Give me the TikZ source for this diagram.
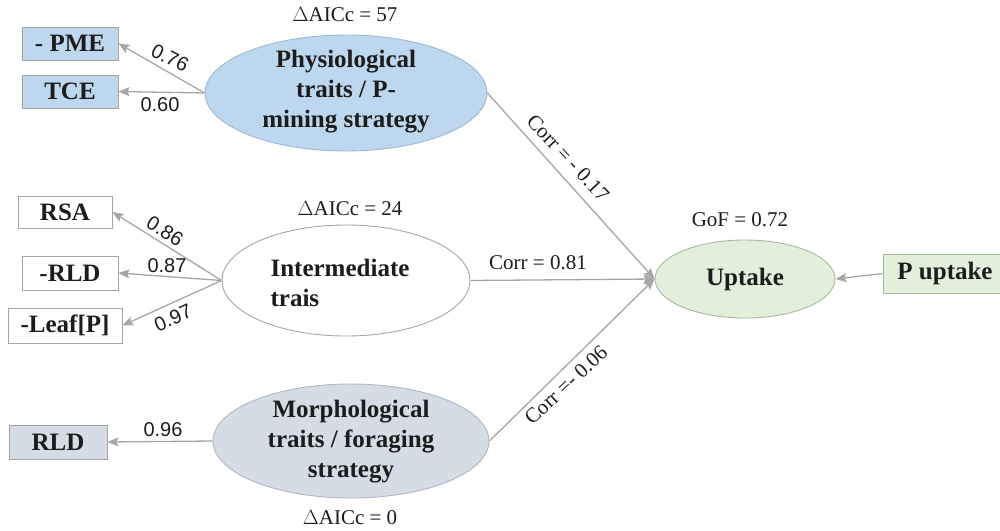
\documentclass[tikz,border=0pt]{standalone}
\usepackage{fontspec}
\setmainfont{Liberation Serif}
\newfontfamily\numfont{Liberation Sans}
\usetikzlibrary{arrows.meta,shapes.geometric}
\definecolor{lineg}{HTML}{A6A6A6}
\definecolor{bordg}{HTML}{A5A5A5}
\definecolor{txt}{HTML}{1C1C1C}
\definecolor{physfill}{HTML}{BDD7EE}
\definecolor{physbord}{HTML}{9EB9D4}
\definecolor{morphfill}{HTML}{D6DCE5}
\definecolor{morphbord}{HTML}{AEB6C2}
\definecolor{upfill}{HTML}{E2EFDA}
\definecolor{upbord}{HTML}{A9B9A0}
\begin{document}
\begin{tikzpicture}[x=1pt,y=-1pt,
  box/.style={rectangle, draw=bordg, line width=0.9pt, inner sep=0pt, text=txt,
    font=\bfseries\fontsize{25}{29}\selectfont},
  lat/.style={ellipse, line width=0.9pt, inner sep=0pt},
  ltext/.style={text=txt, inner sep=0pt, align=center, font=\bfseries\fontsize{25}{30}\selectfont},
  con/.style={draw=lineg, line width=1.3pt, -{Stealth[length=11pt,width=9pt,inset=2pt]}},
  lab/.style={text=txt, inner sep=0pt, font=\fontsize{21}{24}\selectfont},
  load/.style={text=txt, inner sep=0pt, font=\numfont\fontsize{20}{24}\selectfont}]
\useasboundingbox (0,0) rectangle (1000,530);

% measurement boxes
\node[box, fill=physfill, minimum width=96pt, minimum height=33pt] (pme) at (70,43.5) {- PME};
\node[box, fill=physfill, minimum width=96pt, minimum height=33pt] (tce) at (70,91.5) {TCE};
\node[box, fill=white, minimum width=94pt, minimum height=32pt] (rsa) at (65,212) {RSA};
\node[box, fill=white, minimum width=96pt, minimum height=34pt] (rld1) at (70,273) {-RLD};
\node[box, fill=white, minimum width=114pt, minimum height=35pt] (leaf) at (65,325.5) {-Leaf[P]};
\node[box, fill=morphfill, minimum width=98pt, minimum height=34pt] (rld2) at (58,442) {RLD};
\node[box, fill=upfill, draw=upbord, minimum width=124pt, minimum height=39pt] (pu) at (945,273.5) {P uptake};

% latent variables
\node[lat, draw=physbord, fill=physfill, minimum width=282pt, minimum height=116pt,
  label={[ltext, yshift=1pt]center:{Physiological\\traits / P-\\mining strategy}}] (phys) at (346,93) {};
\node[lat, draw=bordg, fill=white, minimum width=248pt, minimum height=111pt,
  label={[ltext, align=left, xshift=-6pt, yshift=-2pt]center:{Intermediate\\trais}}] (inter) at (346,280.5) {};
\node[lat, draw=morphbord, fill=morphfill, minimum width=276pt, minimum height=114pt,
  label={[ltext, yshift=-1pt]center:{Morphological\\traits / foraging\\strategy}}] (morph) at (351,441) {};
\node[lat, draw=upbord, fill=upfill, minimum width=180pt, minimum height=78pt,
  label={[ltext]center:{Uptake}}] (up) at (745,279) {};

% annotations
\node[lab] (aic1) at (345,15) {$\Delta$AICc = 57};
\node[lab] (aic2) at (350,209) {$\Delta$AICc = 24};
\node[lab] (aic3) at (350,518) {$\Delta$AICc = 0};
\node[lab] (gof) at (740,220) {GoF = 0.72};

% loadings
\draw[con] (phys.west) -- (pme.east);
\draw[con] (phys.west) -- (tce.east);
\draw[con] (inter.west) -- (rsa.east);
\draw[con] (inter.west) -- (rld1.east);
\draw[con] (inter.west) -- (leaf.east);
\draw[con] (morph.west) -- (rld2.east);
\draw[con] (pu.west) -- (up.east);

\node[load, rotate=-27] (l1) at (170,58) {0.76};
\node[load] (l2) at (160,105) {0.60};
\node[load, rotate=-32] (l3) at (165,231) {0.86};
\node[load] (l4) at (167,266) {0.87};
\node[load, rotate=24] (l5) at (173,318) {0.97};
\node[load] (l6) at (163,430) {0.96};

% paths to uptake
\draw[con] (phys.east) -- (up.west);
\draw[con] (inter.east) -- (up.west);
\draw[con] (morph.east) -- (up.west);

\node[lab, rotate=-47] (c1) at (568,158) {Corr = - 0.17};
\node[lab] (c2) at (538,263) {Corr = 0.81};
\node[lab, rotate=43] (c3) at (566,385) {Corr =- 0.06};
\end{tikzpicture}
\end{document}
